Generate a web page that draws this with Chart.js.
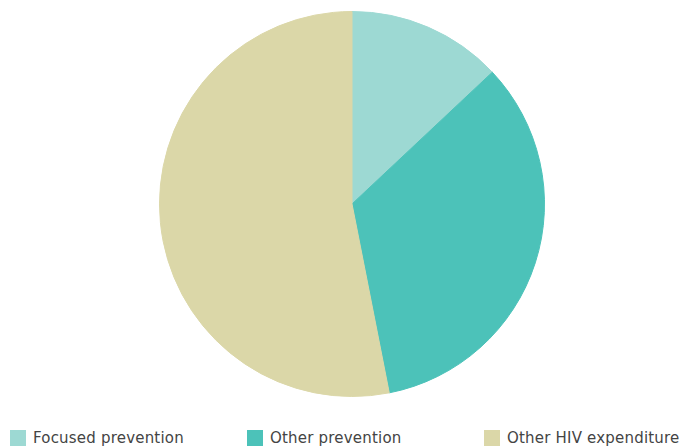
<!DOCTYPE html>
<html>
<head>
<meta charset="utf-8">
<script src="https://cdn.jsdelivr.net/npm/chart.js@4"></script>
<style>
  html, body { margin: 0; padding: 0; background: #fff; overflow: hidden; }
  #wrap { position: relative; width: 683px; height: 420px; }
  #legend { display: flex; padding-left: 10px; padding-top: 8px; height: 20px; align-items: center;
    font-family: "DejaVu Sans", sans-serif; font-size: 15px; letter-spacing: 0.2px; color: #444; }
  #legend .item { width: 237px; flex-shrink: 0; display: flex; align-items: center; white-space: nowrap; }
  #legend .box { width: 16px; height: 16px; margin-right: 7px; }
</style>
</head>
<body>
<div id="wrap"><canvas id="pieChart"></canvas></div>
<div id="legend"></div>
<script>
const categories = ['Focused prevention', 'Other prevention', 'Other HIV expenditure'];
const shares = [13.0, 33.9, 53.1];
const sliceColors = ['#9dd9d3', '#4cc2b9', '#dbd7a8'];

document.addEventListener('DOMContentLoaded', function () {
  var ctx = document.getElementById('pieChart').getContext('2d');

  new Chart(ctx, {
    type: 'pie',
    data: {
      labels: categories,
      datasets: [{
        data: shares,
        backgroundColor: sliceColors,
        borderColor: sliceColors,
        borderWidth: 1
      }]
    },
    options: {
      responsive: true,
      maintainAspectRatio: false,
      animation: false,
      layout: { padding: { top: 11, bottom: 23, left: 21, right: 0 } },
      plugins: {
        legend: { display: false },
        tooltip: { enabled: false }
      }
    }
  });

  // legend below the pie, three evenly spaced columns
  var legend = document.getElementById('legend');
  categories.forEach(function (name, i) {
    var item = document.createElement('div');
    item.className = 'item';
    var box = document.createElement('span');
    box.className = 'box';
    box.style.background = sliceColors[i];
    item.appendChild(box);
    item.appendChild(document.createTextNode(name));
    legend.appendChild(item);
  });
});
</script>
</body>
</html>
